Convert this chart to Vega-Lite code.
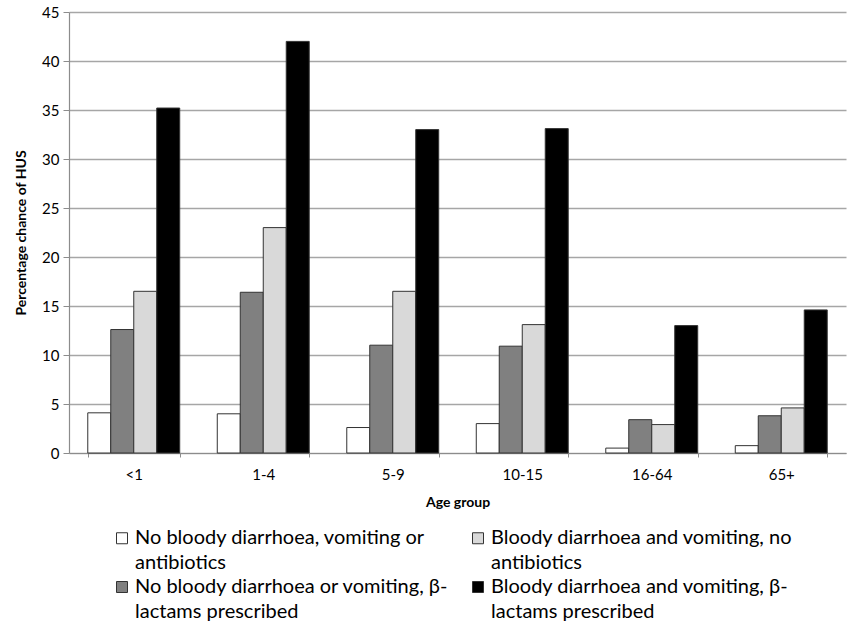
{
  "$schema": "https://vega.github.io/schema/vega-lite/v6.json",
  "width": 777,
  "height": 441,
  "autosize": {"type": "none"},
  "padding": {"left": 69, "top": 12, "right": 3, "bottom": 168},
  "background": "white",
  "data": {
    "values": [
      {"age": "<1", "group": "No bloody diarrhoea, vomiting or antibiotics", "pct": 4.1},
      {"age": "<1", "group": "No bloody diarrhoea or vomiting, β-lactams prescribed", "pct": 12.6},
      {"age": "<1", "group": "Bloody diarrhoea and vomiting, no antibiotics", "pct": 16.5},
      {"age": "<1", "group": "Bloody diarrhoea and vomiting, β-lactams prescribed", "pct": 35.2},
      {"age": "1-4", "group": "No bloody diarrhoea, vomiting or antibiotics", "pct": 4.0},
      {"age": "1-4", "group": "No bloody diarrhoea or vomiting, β-lactams prescribed", "pct": 16.4},
      {"age": "1-4", "group": "Bloody diarrhoea and vomiting, no antibiotics", "pct": 23.0},
      {"age": "1-4", "group": "Bloody diarrhoea and vomiting, β-lactams prescribed", "pct": 42.0},
      {"age": "5-9", "group": "No bloody diarrhoea, vomiting or antibiotics", "pct": 2.6},
      {"age": "5-9", "group": "No bloody diarrhoea or vomiting, β-lactams prescribed", "pct": 11.0},
      {"age": "5-9", "group": "Bloody diarrhoea and vomiting, no antibiotics", "pct": 16.5},
      {"age": "5-9", "group": "Bloody diarrhoea and vomiting, β-lactams prescribed", "pct": 33.0},
      {"age": "10-15", "group": "No bloody diarrhoea, vomiting or antibiotics", "pct": 3.0},
      {"age": "10-15", "group": "No bloody diarrhoea or vomiting, β-lactams prescribed", "pct": 10.9},
      {"age": "10-15", "group": "Bloody diarrhoea and vomiting, no antibiotics", "pct": 13.1},
      {"age": "10-15", "group": "Bloody diarrhoea and vomiting, β-lactams prescribed", "pct": 33.1},
      {"age": "16-64", "group": "No bloody diarrhoea, vomiting or antibiotics", "pct": 0.5},
      {"age": "16-64", "group": "No bloody diarrhoea or vomiting, β-lactams prescribed", "pct": 3.4},
      {"age": "16-64", "group": "Bloody diarrhoea and vomiting, no antibiotics", "pct": 2.9},
      {"age": "16-64", "group": "Bloody diarrhoea and vomiting, β-lactams prescribed", "pct": 13.0},
      {"age": "65+", "group": "No bloody diarrhoea, vomiting or antibiotics", "pct": 0.75},
      {"age": "65+", "group": "No bloody diarrhoea or vomiting, β-lactams prescribed", "pct": 3.8},
      {"age": "65+", "group": "Bloody diarrhoea and vomiting, no antibiotics", "pct": 4.6},
      {"age": "65+", "group": "Bloody diarrhoea and vomiting, β-lactams prescribed", "pct": 14.6}
    ]
  },
  "mark": {"type": "bar", "stroke": "#333333", "strokeWidth": 1},
  "encoding": {
    "x": {
      "field": "age",
      "type": "nominal",
      "sort": ["<1", "1-4", "5-9", "10-15", "16-64", "65+"],
      "scale": {"paddingInner": 0.29, "paddingOuter": 0.145},
      "axis": {
        "title": "Age group",
        "labelAngle": 0,
        "tickBand": "extent",
        "tickSize": 4,
        "labelPadding": 10,
        "titlePadding": 13
      }
    },
    "xOffset": {
      "field": "group",
      "type": "nominal",
      "sort": [
        "No bloody diarrhoea, vomiting or antibiotics",
        "No bloody diarrhoea or vomiting, β-lactams prescribed",
        "Bloody diarrhoea and vomiting, no antibiotics",
        "Bloody diarrhoea and vomiting, β-lactams prescribed"
      ],
      "scale": {"paddingInner": 0, "paddingOuter": 0}
    },
    "y": {
      "field": "pct",
      "type": "quantitative",
      "scale": {"domain": [0, 45]},
      "axis": {
        "title": "Percentage chance of HUS",
        "values": [0, 5, 10, 15, 20, 25, 30, 35, 40, 45],
        "tickSize": 6,
        "labelPadding": 4,
        "titlePadding": 13
      }
    },
    "color": {
      "field": "group",
      "type": "nominal",
      "scale": {
        "domain": [
          "No bloody diarrhoea, vomiting or antibiotics",
          "No bloody diarrhoea or vomiting, β-lactams prescribed",
          "Bloody diarrhoea and vomiting, no antibiotics",
          "Bloody diarrhoea and vomiting, β-lactams prescribed"
        ],
        "range": ["#ffffff", "#808080", "#d9d9d9", "#000000"]
      },
      "legend": {
        "title": null,
        "orient": "none",
        "legendX": 43,
        "legendY": 516,
        "columns": 2,
        "columnPadding": 19,
        "rowPadding": 4,
        "padding": 0,
        "symbolType": "square",
        "symbolSize": 121,
        "symbolStrokeColor": "#333333",
        "symbolStrokeWidth": 1,
        "symbolOffset": 0,
        "labelOffset": 3,
        "labelFont": "Lato",
        "labelFontSize": 20,
        "labelColor": "#000000",
        "labelLimit": 400,
        "labelBaseline": "middle",
        "labelExpr": "datum.label == 'No bloody diarrhoea, vomiting or antibiotics' ? ['No bloody diarrhoea, vomiting or', 'antibiotics'] : datum.label == 'Bloody diarrhoea and vomiting, no antibiotics' ? ['Bloody diarrhoea and vomiting, no', 'antibiotics'] : datum.label == 'No bloody diarrhoea or vomiting, β-lactams prescribed' ? ['No bloody diarrhoea or vomiting, β-', 'lactams prescribed'] : ['Bloody diarrhoea and vomiting, β-', 'lactams prescribed']",
        "encode": {"labels": {"update": {"lineHeight": {"value": 24.5}}}}
      }
    }
  },
  "config": {
    "font": "Lato",
    "view": {"stroke": null},
    "axis": {
      "domainColor": "#8c8c8c",
      "domainWidth": 1.2,
      "tickColor": "#8c8c8c",
      "gridColor": "#a6a6a6",
      "gridWidth": 1.4,
      "labelColor": "#000000",
      "labelFontSize": 15,
      "titleFontSize": 14,
      "titleFontWeight": "bold",
      "titleColor": "#000000"
    },
    "axisX": {"grid": false},
    "axisY": {"grid": true}
  }
}
